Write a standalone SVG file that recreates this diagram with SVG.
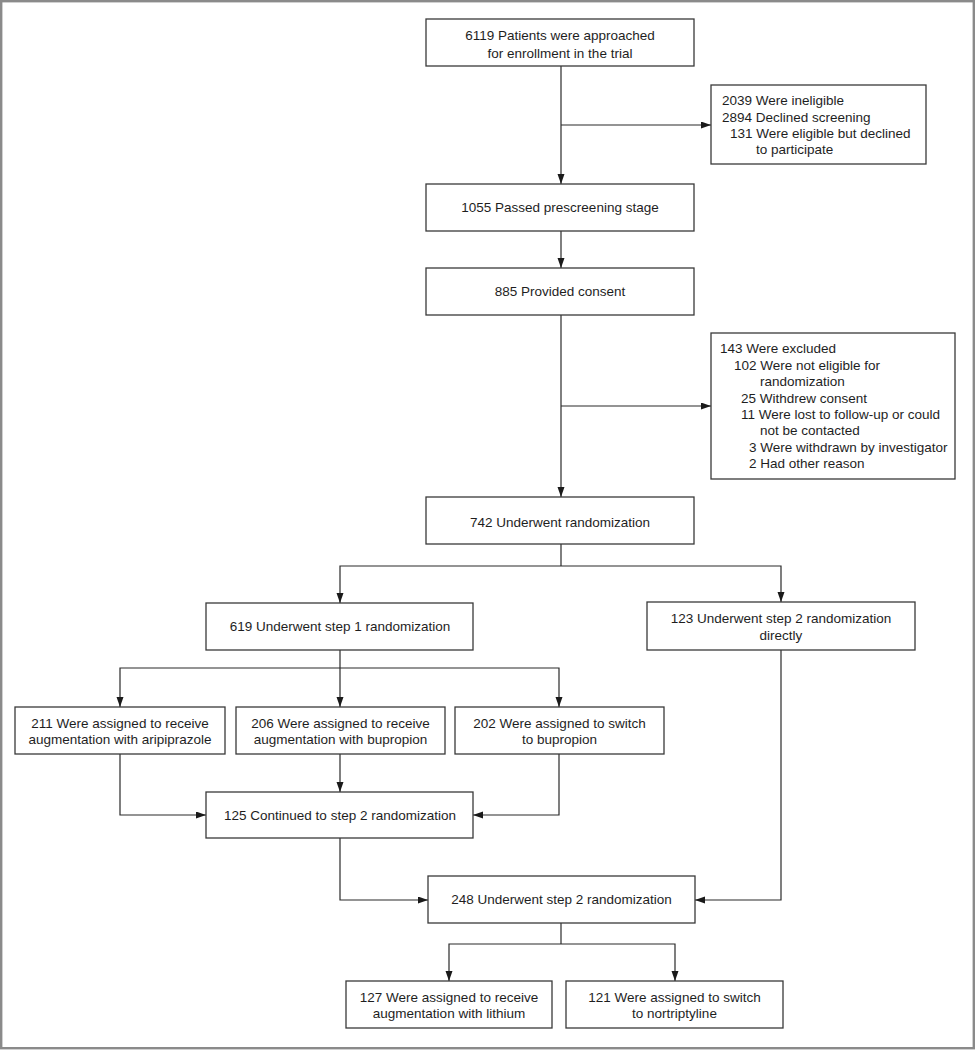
<svg xmlns="http://www.w3.org/2000/svg" width="975" height="1050" viewBox="0 0 975 1050">
<defs>
<marker id="arr" markerWidth="10" markerHeight="8" refX="10" refY="3.5" orient="auto" markerUnits="userSpaceOnUse">
<path d="M0,0 L10,3.5 L0,7 z" fill="#1a1a1a"/>
</marker>
<style>
.box{fill:#fff;stroke:#3a3a3a;stroke-width:1.3}
.t{font-family:"Liberation Sans",Arial,sans-serif;font-size:13.5px;fill:#1e1e1e}
.c{text-anchor:middle}
.ln{fill:none;stroke:#2a2a2a;stroke-width:1.2}
.ar{fill:none;stroke:#2a2a2a;stroke-width:1.2;marker-end:url(#arr)}
</style>
</defs>
<rect x="1.2" y="1.2" width="972.6" height="1047" fill="#fff" stroke="#8a8a8a" stroke-width="2.4"/>
<g id="connectors">
<path class="ar" d="M561,66 V184"/>
<path class="ar" d="M561,125 H711"/>
<path class="ar" d="M561,231 V268"/>
<path class="ar" d="M561,315 V497"/>
<path class="ar" d="M561,406 H711"/>
<path class="ln" d="M561,544 V566"/>
<path class="ar" d="M561,566 H340 V603"/>
<path class="ar" d="M561,566 H781 V602"/>
<path class="ln" d="M340,650 V668"/>
<path class="ar" d="M340,668 H120 V707"/>
<path class="ar" d="M340,668 V707"/>
<path class="ar" d="M340,668 H559 V707"/>
<path class="ar" d="M120,754 V815 H206"/>
<path class="ar" d="M340,754 V792"/>
<path class="ar" d="M559,754 V815 H473"/>
<path class="ar" d="M340,838 V900 H428"/>
<path class="ar" d="M781,650 V900 H695"/>
<path class="ln" d="M561,923 V944"/>
<path class="ar" d="M561,944 H449 V981"/>
<path class="ar" d="M561,944 H675 V981"/>
</g>
<g id="n-approached">
<rect class="box" x="426" y="19" width="268" height="47"/>
<text class="t c" x="560" y="40">6119 Patients were approached</text>
<text class="t c" x="560" y="58">for enrollment in the trial</text>
</g>
<g id="n-excluded1">
<rect class="box" x="711" y="85" width="215" height="79"/>
<text class="t" x="722" y="105">2039 Were ineligible</text>
<text class="t" x="722" y="122">2894 Declined screening</text>
<text class="t" x="730" y="138">131 Were eligible but declined</text>
<text class="t" x="756" y="154">to participate</text>
</g>
<g id="n-prescreen">
<rect class="box" x="426" y="184" width="268" height="47"/>
<text class="t c" x="560" y="212">1055 Passed prescreening stage</text>
</g>
<g id="n-consent">
<rect class="box" x="426" y="268" width="268" height="47"/>
<text class="t c" x="560" y="296">885 Provided consent</text>
</g>
<g id="n-excluded2">
<rect class="box" x="711" y="333" width="244" height="146"/>
<text class="t" x="720" y="353">143 Were excluded</text>
<text class="t" x="734" y="369.5">102 Were not eligible for</text>
<text class="t" x="760" y="386">randomization</text>
<text class="t" x="741" y="402.5">25 Withdrew consent</text>
<text class="t" x="741" y="419">11 Were lost to follow-up or could</text>
<text class="t" x="760" y="435">not be contacted</text>
<text class="t" x="749" y="451.5">3 Were withdrawn by investigator</text>
<text class="t" x="749" y="468">2 Had other reason</text>
</g>
<g id="n-randomized">
<rect class="box" x="426" y="497" width="268" height="47"/>
<text class="t c" x="560" y="527">742 Underwent randomization</text>
</g>
<g id="n-step1">
<rect class="box" x="206" y="603" width="267" height="47"/>
<text class="t c" x="340" y="631">619 Underwent step 1 randomization</text>
</g>
<g id="n-step2direct">
<rect class="box" x="647" y="602" width="268" height="48"/>
<text class="t c" x="781" y="623">123 Underwent step 2 randomization</text>
<text class="t c" x="781" y="640">directly</text>
</g>
<g id="n-aripiprazole">
<rect class="box" x="15" y="707" width="210" height="47"/>
<text class="t c" x="120" y="728">211 Were assigned to receive</text>
<text class="t c" x="120" y="744">augmentation with aripiprazole</text>
</g>
<g id="n-bupropion-aug">
<rect class="box" x="236" y="707" width="209" height="47"/>
<text class="t c" x="340.5" y="728">206 Were assigned to receive</text>
<text class="t c" x="340.5" y="744">augmentation with bupropion</text>
</g>
<g id="n-bupropion-switch">
<rect class="box" x="455" y="707" width="209" height="47"/>
<text class="t c" x="559.5" y="728">202 Were assigned to switch</text>
<text class="t c" x="559.5" y="744">to bupropion</text>
</g>
<g id="n-continued">
<rect class="box" x="206" y="792" width="267" height="46"/>
<text class="t c" x="340" y="820">125 Continued to step 2 randomization</text>
</g>
<g id="n-step2">
<rect class="box" x="428" y="876" width="267" height="47"/>
<text class="t c" x="561.5" y="904">248 Underwent step 2 randomization</text>
</g>
<g id="n-lithium">
<rect class="box" x="346" y="981" width="206" height="47"/>
<text class="t c" x="449" y="1002">127 Were assigned to receive</text>
<text class="t c" x="449" y="1018">augmentation with lithium</text>
</g>
<g id="n-nortriptyline">
<rect class="box" x="566" y="981" width="217" height="47"/>
<text class="t c" x="674.5" y="1002">121 Were assigned to switch</text>
<text class="t c" x="674.5" y="1018">to nortriptyline</text>
</g>
</svg>
